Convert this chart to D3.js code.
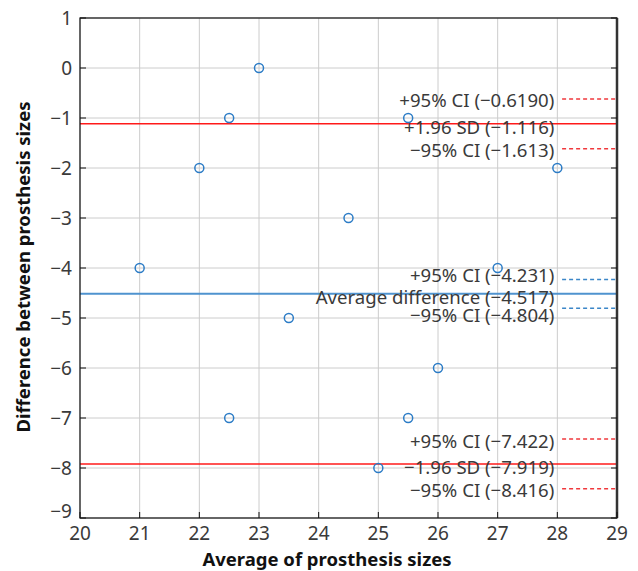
<!DOCTYPE html>
<html>
<head>
<meta charset="utf-8">
<script src="https://cdn.jsdelivr.net/npm/d3@7"></script>
<style>
  body { margin: 0; background: #fff; }
  svg { font-family: "Noto Sans", "Open Sans", sans-serif; }
</style>
</head>
<body>
<div id="chart"></div>
<script>
"use strict";

// Bland-Altman points: average vs difference
const avgSizes = [21, 22, 22.5, 22.5, 23, 23.5, 24.5, 25, 25.5, 25.5, 26, 27, 28];
const diffSizes = [-4, -2, -1, -7, 0, -5, -3, -8, -1, -7, -6, -4, -2];

// reference lines
const refNames = ["+1.96 SD", "Average difference", "\u22121.96 SD"];
const refValues = [-1.116, -4.517, -7.919];
const refColors = ["#ff1a1a", "#4f93cf", "#ff1a1a"];

// confidence intervals around each line
const ciUpper = [-0.6190, -4.231, -7.422];
const ciLower = [-1.613, -4.804, -8.416];
const ciUpperText = ["\u22120.6190", "\u22124.231", "\u22127.422"];
const ciLowerText = ["\u22121.613", "\u22124.804", "\u22128.416"];
const refText = ["\u22121.116", "\u22124.517", "\u22127.919"];
const ciColors = ["#f0383c", "#3b86c8", "#f0383c"];

const xTicks = [20, 21, 22, 23, 24, 25, 26, 27, 28, 29];
const yTicks = [1, 0, -1, -2, -3, -4, -5, -6, -7, -8, -9];

const width = 638, height = 571;
const margin = {top: 18, right: 21, bottom: 53, left: 80};
const innerW = width - margin.left - margin.right;
const innerH = height - margin.top - margin.bottom;

const svg = d3.select("#chart").append("svg")
  .attr("width", width)
  .attr("height", height);

const g = svg.append("g")
  .attr("transform", "translate(" + margin.left + "," + margin.top + ")");

const x = d3.scaleLinear().domain([20, 29]).range([0, innerW]);
const y = d3.scaleLinear().domain([-9, 1]).range([innerH, 0]);

// Grid
g.append("g").selectAll("line").data(xTicks).join("line")
  .attr("x1", d => x(d)).attr("x2", d => x(d))
  .attr("y1", 0).attr("y2", innerH)
  .attr("stroke", "#cccccc").attr("stroke-width", 1);
g.append("g").selectAll("line").data(yTicks).join("line")
  .attr("x1", 0).attr("x2", innerW)
  .attr("y1", d => y(d)).attr("y2", d => y(d))
  .attr("stroke", "#cccccc").attr("stroke-width", 1);

// Reference lines
g.append("g").selectAll("line").data(refValues).join("line")
  .attr("x1", 0).attr("x2", innerW)
  .attr("y1", d => y(d)).attr("y2", d => y(d))
  .attr("stroke", (d, i) => refColors[i])
  .attr("stroke-width", (d, i) => i === 1 ? 2 : 1.5);

// CI dashes at right
const dashX0 = x(28.08);
const ciAll = [];
refValues.forEach((v, i) => {
  ciAll.push({v: ciUpper[i], c: ciColors[i]});
  ciAll.push({v: ciLower[i], c: ciColors[i]});
});
g.append("g").selectAll("line").data(ciAll).join("line")
  .attr("x1", dashX0).attr("x2", innerW)
  .attr("y1", d => y(d.v)).attr("y2", d => y(d.v))
  .attr("stroke", d => d.c)
  .attr("stroke-width", 1.5)
  .attr("stroke-dasharray", "4,3");

// Labels, three per group, spread apart if too tight
const labelX = x(27.95);
const minGap = 20;
refValues.forEach((v, i) => {
  let ys = [y(ciUpper[i]), y(v), y(ciLower[i])];
  const mid = ys[1];
  if (ys[1] - ys[0] < minGap) ys[0] = mid - minGap;
  if (ys[2] - ys[1] < minGap) ys[2] = mid + minGap;
  const texts = [
    "+95% CI (" + ciUpperText[i] + ")",
    refNames[i] + " (" + refText[i] + ")",
    "\u221295% CI (" + ciLowerText[i] + ")"
  ];
  texts.forEach((t, k) => {
    g.append("text")
      .attr("x", labelX)
      .attr("y", ys[k] + (k === 1 ? 3 : 1))
      .attr("text-anchor", "end")
      .attr("dominant-baseline", "central")
      .attr("font-size", "18.6px")
      .attr("fill", "#3a3a3a")
      .text(t);
  });
});

// Points
g.append("g").selectAll("circle").data(avgSizes).join("circle")
  .attr("cx", d => x(d))
  .attr("cy", (d, i) => y(diffSizes[i]))
  .attr("r", 4.5)
  .attr("fill", "none")
  .attr("stroke", "#2c7cc6")
  .attr("stroke-width", 1.5);

// Frame
g.append("rect")
  .attr("x", 0).attr("y", 0)
  .attr("width", innerW).attr("height", innerH)
  .attr("fill", "none")
  .attr("stroke", "#111").attr("stroke-width", 1.2);
g.append("line")
  .attr("x1", innerW).attr("x2", innerW)
  .attr("y1", 0).attr("y2", innerH)
  .attr("stroke", "#333").attr("stroke-width", 2.5);

// Inward ticks
const tickLen = 6;
g.append("g").selectAll("line").data(xTicks).join("line")
  .attr("x1", d => x(d)).attr("x2", d => x(d))
  .attr("y1", innerH).attr("y2", innerH - tickLen)
  .attr("stroke", "#111");
g.append("g").selectAll("line").data(yTicks).join("line")
  .attr("x1", 0).attr("x2", tickLen)
  .attr("y1", d => y(d)).attr("y2", d => y(d))
  .attr("stroke", "#111");
g.append("g").selectAll("line").data(yTicks).join("line")
  .attr("x1", innerW).attr("x2", innerW - tickLen)
  .attr("y1", d => y(d)).attr("y2", d => y(d))
  .attr("stroke", "#111");

// Tick labels
const fmt = d => d < 0 ? "\u2212" + Math.abs(d) : String(d);
g.append("g").selectAll("text").data(xTicks).join("text")
  .attr("x", d => x(d))
  .attr("y", innerH + 15)
  .attr("text-anchor", "middle")
  .attr("dominant-baseline", "central")
  .attr("font-size", "19px")
  .attr("fill", "#3a3a3a")
  .text(fmt);
g.append("g").selectAll("text").data(yTicks).join("text")
  .attr("x", -8)
  .attr("y", d => y(d) - (d === -9 ? 7 : 0))
  .attr("text-anchor", "end")
  .attr("dominant-baseline", "central")
  .attr("font-size", "19px")
  .attr("fill", "#3a3a3a")
  .text(fmt);

// Axis titles
svg.append("text")
  .attr("x", 327)
  .attr("y", height - 5)
  .attr("text-anchor", "middle")
  .attr("font-size", "18.5px")
  .attr("font-weight", "bold")
  .attr("fill", "#111")
  .text("Average of prosthesis sizes");
svg.append("text")
  .attr("transform", "translate(22,267) rotate(-90)")
  .attr("text-anchor", "middle")
  .attr("dominant-baseline", "central")
  .attr("font-size", "18.5px")
  .attr("font-weight", "bold")
  .attr("fill", "#111")
  .text("Difference between prosthesis sizes");
</script>
</body>
</html>
